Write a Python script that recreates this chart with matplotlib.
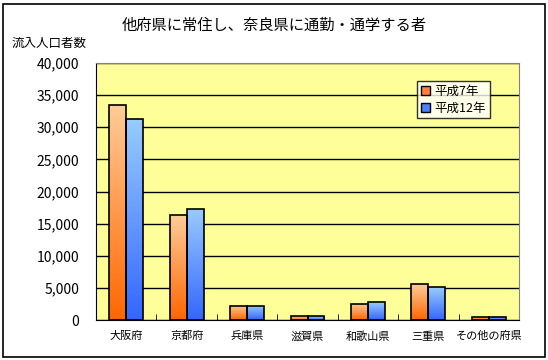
import numpy as np
import matplotlib.pyplot as plt
from matplotlib.colors import LinearSegmentedColormap
from matplotlib.patches import Rectangle

plt.rcParams['font.family'] = ['Noto Sans CJK JP', 'DejaVu Sans']

categories = ["大阪府", "京都府", "兵庫県", "滋賀県", "和歌山県", "三重県", "その他の府県"]
h7 = [33500, 16300, 2200, 600, 2500, 5600, 500]
h12 = [31300, 17300, 2200, 600, 2800, 5100, 500]
series_names = ["平成7年", "平成12年"]

W, H = 548, 360
fig = plt.figure(figsize=(W / 100, H / 100), dpi=100)
ax = fig.add_axes([96 / W, 40 / H, 423 / W, 257 / H])
ax.set_facecolor("#FFFF99")

orange = LinearSegmentedColormap.from_list("o", ["#FF6600", "#FFCC99"])
blue = LinearSegmentedColormap.from_list("b", ["#3366FF", "#99CCFF"])
grad = np.linspace(0, 1, 256).reshape(-1, 1)

x = np.arange(len(categories))
bw = 0.28
ax.set_xlim(-0.5, len(categories) - 0.5)
ax.set_ylim(0, 40000)

for vals, off, cmap in [(h7, -bw / 2, orange), (h12, bw / 2, blue)]:
    bars = ax.bar(x + off, vals, bw, color="none", edgecolor="black", linewidth=1.2, zorder=3)
    for b in bars:
        x0, y0 = b.get_x(), b.get_y()
        w, h = b.get_width(), b.get_height()
        im = ax.imshow(grad, cmap=cmap, origin="lower", aspect="auto",
                       extent=[x0, x0 + w, y0, y0 + h], zorder=2)
        im.set_clip_path(Rectangle((x0, y0), w, h, transform=ax.transData))

ax.set_xlim(-0.5, len(categories) - 0.5)
ax.set_ylim(0, 40000)
ax.set_yticks(np.arange(0, 40001, 5000))
ax.set_yticklabels([f"{v:,}" for v in range(0, 40001, 5000)], fontsize=10)
ax.yaxis.grid(True, color="black", linewidth=1)
ax.set_axisbelow(True)
ax.set_xticks(x)
ax.set_xticklabels(categories, fontsize=8)
ax.set_xticks(np.arange(-0.5, len(categories)), minor=True)
ax.tick_params(axis="x", which="major", length=0, pad=8)
ax.tick_params(axis="x", which="minor", length=4, direction="in")
ax.tick_params(axis="y", length=0, pad=12)
for s in ax.spines.values():
    s.set_color("#808080")
ax.spines["bottom"].set_color("black")
ax.spines["left"].set_color("black")

handles = [Rectangle((0, 0), 1, 1, facecolor="#FF8040", edgecolor="black"),
           Rectangle((0, 0), 1, 1, facecolor="#4D80FF", edgecolor="black")]
leg = ax.legend(handles, series_names, loc="upper left", bbox_to_anchor=(321 / 423, 1 - 18 / 257),
                fontsize=9, frameon=True, fancybox=False, edgecolor="black",
                handlelength=0.7, handleheight=0.7, handletextpad=0.4,
                borderpad=0.3, labelspacing=0.3, borderaxespad=0)
leg.get_frame().set_linewidth(1)

fig.text(0.5, 1 - 25 / H, "他府県に常住し、奈良県に通勤・通学する者", ha="center", va="center", fontsize=11)
fig.text(12 / W, 1 - 43 / H, "流入人口者数", ha="left", va="center", fontsize=9)

fig.patches.append(Rectangle((3 / W, 3 / H), 542 / W, 353 / H, transform=fig.transFigure,
                             fill=False, edgecolor="black", linewidth=1.2))

fig.savefig("out.png", dpi=100)
